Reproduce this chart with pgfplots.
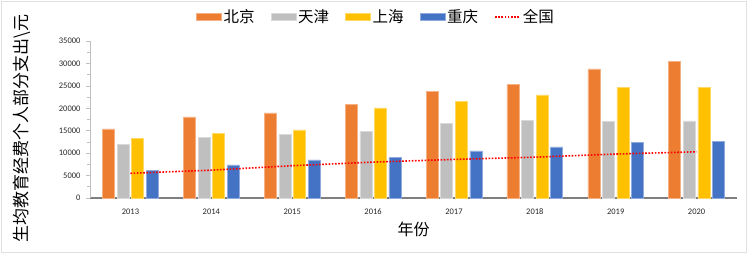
\documentclass[border=0pt]{standalone}
\usepackage{fontspec}
\setmainfont{Carlito}
\newfontfamily\cjk{Noto Sans CJK SC}
\usepackage{pgfplots}
\pgfplotsset{compat=1.18}
\definecolor{cOr}{HTML}{ED7D31}
\definecolor{cGr}{HTML}{BFBFBF}
\definecolor{cYe}{HTML}{FFC000}
\definecolor{cBl}{HTML}{4472C4}
\definecolor{axgray}{HTML}{7F7F7F}
\definecolor{lgray}{HTML}{BFBFBF}
\pgfplotsset{
  barleg/.style={legend image code/.code={\fill[##1] (0pt,-3.5pt) rectangle (25pt,3.5pt);}},
  lineleg/.style={legend image code/.code={\draw[##1] (0pt,0pt) -- (25pt,0pt);}},
}
\begin{document}
\begin{tikzpicture}
\path[use as bounding box] (0,0) rectangle (747pt,253pt);
\draw[color=black!12, line width=0.8pt] (1pt,1pt) rectangle (746pt,252pt);
\begin{axis}[
  at={(90pt,55pt)}, anchor=south west,
  scale only axis, width=647pt, height=157pt,
  xmin=-0.5, xmax=7.5, ymin=0, ymax=35000,
  axis x line*=bottom, axis y line*=left,
  x axis line style={draw=axgray, line width=1.2pt},
  y axis line style={draw=lgray, line width=0.8pt},
  xtick={0,...,7},
  xticklabels={2013,2014,2015,2016,2017,2018,2019,2020},
  x tick style={draw=none},
  extra x ticks={-0.5,0.5,...,7.5},
  extra x tick labels={},
  extra x tick style={tick style={draw=axgray, line width=0.8pt}, major tick length=4pt},
  ytick={0,5000,...,35000},
  minor y tick num=1,
  y tick style={draw=lgray, line width=0.6pt},
  major tick length=4pt, minor tick length=3pt,
  tick align=outside,
  scaled y ticks=false,
  /pgf/number format/fixed,
  /pgf/number format/1000 sep={},
  /pgf/number format/assume math mode=true,
  ticklabel style={font=\fontsize{8.5}{10}\selectfont, text=black!85},
  xticklabel style={yshift=-3pt},
  yticklabel style={xshift=-2pt},
  ylabel={\cjk 生均教育经费个人部分支出\textbackslash 元},
  every axis y label/.style={at={(axis description cs:-0.105,0.443)}, rotate=90, anchor=center, font=\fontsize{17}{20}\selectfont},
  xlabel={\cjk 年份},
  every axis x label/.style={at={(axis description cs:0.5,-0.197)}, anchor=center, font=\fontsize{16}{19}\selectfont},
  legend columns=5,
  legend style={at={(axis description cs:0.442,1.153)}, anchor=center, draw=none, fill=none,
    font=\fontsize{15.5}{18}\selectfont\cjk, /tikz/every even column/.append style={column sep=14pt},
    nodes={inner xsep=2pt, inner ysep=1pt}},
  legend cell align=left,
  clip=false,
]
\addplot[ybar, bar width=12pt, bar shift=-21.9pt, fill=cOr, draw=cOr!60!white, line width=0.5pt, barleg]
  coordinates {(0,15400) (1,18100) (2,19000) (3,20900) (4,23800) (5,25300) (6,28800) (7,30500)};
\addlegendentry{北京}
\addplot[ybar, bar width=12pt, bar shift=-7.3pt, fill=cGr, draw=cGr!60!white, line width=0.5pt, barleg]
  coordinates {(0,12000) (1,13500) (2,14100) (3,14900) (4,16700) (5,17300) (6,17000) (7,17200)};
\addlegendentry{天津}
\addplot[ybar, bar width=12pt, bar shift=7.3pt, fill=cYe, draw=cYe!60!white, line width=0.5pt, barleg]
  coordinates {(0,13300) (1,14400) (2,15200) (3,20100) (4,21500) (5,23000) (6,24600) (7,24700)};
\addlegendentry{上海}
\addplot[ybar, bar width=12pt, bar shift=21.9pt, fill=cBl, draw=cBl!60!white, line width=0.5pt, barleg]
  coordinates {(0,6200) (1,7400) (2,8500) (3,9000) (4,10500) (5,11400) (6,12400) (7,12700)};
\addlegendentry{重庆}
\addplot[red, line width=1.6pt, dash pattern=on 1.6pt off 1.6pt, mark=none, sharp plot, lineleg]
  coordinates {(0,5500) (1,6200) (2,7200) (3,8000) (4,8600) (5,9100) (6,9800) (7,10300)};
\addlegendentry{全国}
\end{axis}
\end{tikzpicture}
\end{document}
